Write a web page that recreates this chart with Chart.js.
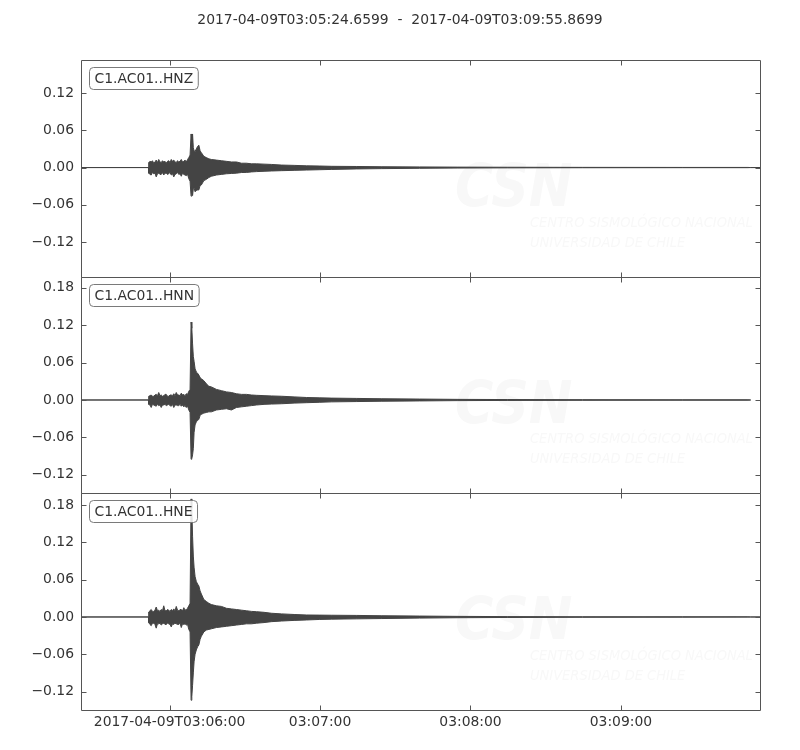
<!DOCTYPE html>
<html>
<head>
<meta charset="utf-8">
<script src="https://cdn.jsdelivr.net/npm/chart.js@4.4.1/dist/chart.umd.min.js"></script>
<style>
  html, body { margin: 0; padding: 0; background: #fff; }
</style>
</head>
<body>
<canvas id="seismo" width="800" height="750"></canvas>
<script>
// trace data, seconds after 2017-04-09T03:05:24.6599, envelope
const traceNames = ["C1.AC01..HNZ", "C1.AC01..HNN", "C1.AC01..HNE"];
const duration = 271.21;

const times = [
  0, 26.9,
  27, 27.5, 28, 28.5, 29, 29.5, 30, 30.5, 31, 31.5, 32, 32.5, 33, 33.5, 34, 34.5,
  35, 35.5, 36, 36.5, 37, 37.5, 38, 38.5, 39, 39.5, 40, 40.5, 41, 41.5, 42, 42.5, 43,
  43.5, 43.9, 44.2, 44.5, 44.8, 45.1, 45.5,
  46, 46.5, 47, 47.5, 48,
  49, 50, 51, 52,
  54, 56, 58, 60, 62, 64, 66, 68, 70,
  73, 76, 80, 85, 90, 95, 100,
  110, 120, 135, 150, 170, 200, 240, 266, 267.1, 271.21
];

const hnzHi = [
  0, 0,
  0.008, 0.010, 0.009, 0.011, 0.007, 0.009, 0.012, 0.008, 0.013, 0.009, 0.008, 0.011, 0.009, 0.010, 0.007, 0.010,
  0.011, 0.008, 0.013, 0.010, 0.012, 0.009, 0.008, 0.011, 0.009, 0.010, 0.013, 0.009, 0.010, 0.012, 0.009, 0.013, 0.016,
  0.020, 0.054, 0.042, 0.054, 0.032, 0.027, 0.026,
  0.030, 0.034, 0.036, 0.027, 0.024,
  0.018, 0.016, 0.014, 0.013,
  0.012, 0.011, 0.010, 0.009, 0.009, 0.007, 0.007, 0.006, 0.006,
  0.0055, 0.005, 0.004, 0.0035, 0.0028, 0.0025, 0.002,
  0.0017, 0.0013, 0.001, 0.0007, 0.0005, 0.0003, 0.0002, 0.0002, 0, 0
];
const hnzLo = [
  0, 0,
  -0.009, -0.011, -0.012, -0.008, -0.010, -0.009, -0.015, -0.010, -0.009, -0.011, -0.011, -0.008, -0.012, -0.009, -0.009, -0.011,
  -0.010, -0.008, -0.012, -0.010, -0.015, -0.011, -0.010, -0.008, -0.011, -0.010, -0.014, -0.009, -0.011, -0.012, -0.013, -0.011, -0.018,
  -0.022, -0.046, -0.040, -0.045, -0.034, -0.033, -0.039,
  -0.037, -0.036, -0.036, -0.029, -0.028,
  -0.021, -0.019, -0.016, -0.014,
  -0.012, -0.011, -0.010, -0.0095, -0.009, -0.008, -0.0078, -0.007, -0.0065,
  -0.006, -0.0055, -0.005, -0.0045, -0.004, -0.0035, -0.003,
  -0.0022, -0.0017, -0.0012, -0.0008, -0.0005, -0.0003, -0.0002, -0.0002, 0, 0
];

const hnnHi = [
  0, 0,
  0.006, 0.007, 0.008, 0.006, 0.006, 0.008, 0.009, 0.007, 0.012, 0.007, 0.008, 0.006, 0.007, 0.009, 0.009, 0.006,
  0.006, 0.008, 0.008, 0.007, 0.010, 0.007, 0.012, 0.008, 0.008, 0.007, 0.011, 0.008, 0.009, 0.007, 0.010, 0.009, 0.014,
  0.017, 0.125, 0.115, 0.090, 0.070, 0.062, 0.050,
  0.045, 0.043, 0.040, 0.036, 0.034,
  0.031, 0.026, 0.022, 0.021,
  0.017, 0.015, 0.013, 0.012, 0.010, 0.009, 0.009, 0.008, 0.0075,
  0.007, 0.0065, 0.006, 0.005, 0.004, 0.0035, 0.003,
  0.0025, 0.002, 0.0015, 0.001, 0.0007, 0.0005, 0.0003, 0.0003, 0, null
];
const hnnLo = [
  0, 0,
  -0.007, -0.008, -0.012, -0.007, -0.008, -0.009, -0.010, -0.007, -0.009, -0.008, -0.012, -0.008, -0.008, -0.007, -0.009, -0.008,
  -0.007, -0.009, -0.010, -0.007, -0.012, -0.008, -0.008, -0.009, -0.009, -0.007, -0.010, -0.008, -0.011, -0.009, -0.012, -0.010, -0.016,
  -0.020, -0.095, -0.094, -0.088, -0.078, -0.052, -0.040,
  -0.035, -0.033, -0.031, -0.025, -0.023,
  -0.021, -0.020, -0.019, -0.019,
  -0.016, -0.015, -0.014, -0.016, -0.012, -0.011, -0.010, -0.009, -0.008,
  -0.007, -0.0065, -0.006, -0.005, -0.0043, -0.0037, -0.003,
  -0.0025, -0.002, -0.0015, -0.001, -0.0007, -0.0005, -0.0003, -0.0003, 0, null
];

const hneHi = [
  0, 0,
  0.008, 0.010, 0.012, 0.009, 0.009, 0.011, 0.016, 0.010, 0.011, 0.009, 0.012, 0.010, 0.018, 0.010, 0.010, 0.012,
  0.011, 0.009, 0.012, 0.010, 0.013, 0.010, 0.017, 0.011, 0.010, 0.012, 0.012, 0.010, 0.015, 0.011, 0.012, 0.014, 0.018,
  0.022, 0.190, 0.175, 0.130, 0.098, 0.080, 0.065,
  0.057, 0.053, 0.050, 0.042, 0.037,
  0.028, 0.025, 0.022, 0.020,
  0.018, 0.017, 0.014, 0.013, 0.012, 0.011, 0.010, 0.009, 0.0085,
  0.0075, 0.006, 0.005, 0.004, 0.0032, 0.003, 0.0028,
  0.0025, 0.002, 0.0015, 0.001, 0.0006, 0.0004, 0.0003, 0.0002, 0, 0
];
const hneLo = [
  0, 0,
  -0.009, -0.012, -0.014, -0.010, -0.010, -0.012, -0.018, -0.011, -0.011, -0.010, -0.013, -0.011, -0.010, -0.012, -0.012, -0.010,
  -0.011, -0.012, -0.016, -0.011, -0.012, -0.010, -0.011, -0.012, -0.012, -0.010, -0.017, -0.011, -0.012, -0.011, -0.013, -0.012, -0.020,
  -0.024, -0.134, -0.128, -0.110, -0.090, -0.072, -0.060,
  -0.053, -0.048, -0.045, -0.036, -0.031,
  -0.024, -0.021, -0.020, -0.019,
  -0.017, -0.016, -0.015, -0.014, -0.013, -0.012, -0.011, -0.011, -0.010,
  -0.009, -0.0075, -0.0065, -0.0055, -0.0048, -0.004, -0.0035,
  -0.003, -0.0025, -0.0018, -0.0012, -0.0008, -0.0005, -0.0003, -0.0002, 0, 0
];

// axes
const yMins = [-0.1755, -0.1497, -0.1497];
const yMaxs = [0.1730, 0.1978, 0.1990];
const yTicksZ = [-0.12, -0.06, 0, 0.06, 0.12];
const yTicksNE = [-0.12, -0.06, 0, 0.06, 0.12, 0.18];
const xTickSecs = [35.3401, 95.3401, 155.3401, 215.3401];
const xTickLabels = ["2017-04-09T03:06:00", "03:07:00", "03:08:00", "03:09:00"];
const titleText = "2017-04-09T03:05:24.6599  -  2017-04-09T03:09:55.8699";

const FONT = "'DejaVu Sans', sans-serif";
const FSIZE = 13.9;
const TEXT = "#333333";
const FRAME = "#555555";
const TRACE = "#444444";

const hiSets = [hnzHi, hnnHi, hneHi];
const loSets = [hnzLo, hnnLo, hneLo];
const yTickSets = [yTicksZ, yTicksNE, yTicksNE];
const axisIds = ["y1", "y2", "y3"];

const toPoints = (vals) => times.map((t, k) => ({ x: t, y: vals[k] }));

const datasets = [];
traceNames.forEach((name, i) => {
  datasets.push({
    label: name,
    data: toPoints(hiSets[i]),
    yAxisID: axisIds[i],
    borderColor: TRACE,
    backgroundColor: TRACE,
    borderWidth: 1,
    pointRadius: 0,
    fill: "+1",
  });
  datasets.push({
    label: name + " low",
    data: toPoints(loSets[i]),
    yAxisID: axisIds[i],
    borderColor: TRACE,
    backgroundColor: TRACE,
    borderWidth: 1,
    pointRadius: 0,
    fill: false,
  });
});

const fmtY = (v) => (Math.abs(v) < 1e-9 ? "0.00" : v.toFixed(2).replace("-", "\u2212"));

const yAxis = (i) => ({
  type: "linear",
  position: "left",
  stack: "traces",
  stackWeight: 1,
  weight: 3 - i,
  min: yMins[i],
  max: yMaxs[i],
  grid: { display: false, drawTicks: false },
  border: { display: false },
  afterBuildTicks: (ax) => { ax.ticks = yTickSets[i].map((v) => ({ value: v })); },
  afterFit: (ax) => { ax.width = 81; },
  ticks: {
    autoSkip: false,
    padding: 7,
    color: TEXT,
    font: { family: FONT, size: FSIZE },
    callback: (v) => fmtY(v),
  },
});

// title, faint watermark, frames with inward ticks, station labels
const decorPlugin = {
  id: "decor",
  beforeDatasetsDraw(chart) {
    const c = chart.ctx;
    const a = chart.chartArea;
    c.save();
    c.beginPath();
    c.rect(a.left, a.top, a.right - a.left, a.bottom - a.top);
    c.clip();
    c.fillStyle = "#f8f8f8";
    axisIds.forEach((id) => {
      const top = chart.scales[id].top;
      c.font = "italic bold 58px 'Liberation Sans Narrow', 'DejaVu Sans Condensed', sans-serif";
      c.textBaseline = "alphabetic";
      c.fillText("CSN", 455, top + 146);
      c.font = "italic 14.5px 'Liberation Sans Narrow', 'DejaVu Sans Condensed', sans-serif";
      c.textBaseline = "middle";
      c.fillText("CENTRO SISMOLÓGICO NACIONAL", 530, top + 163);
      c.fillText("UNIVERSIDAD DE CHILE", 530, top + 183);
    });
    c.restore();
  },
  afterDatasetsDraw(chart) {
    const c = chart.ctx;
    const xs = chart.scales.x;
    const l = Math.round(xs.left) + 0.5;
    const r = Math.round(xs.right) - 0.5;
    c.save();
    c.strokeStyle = FRAME;
    c.lineWidth = 1;
    axisIds.forEach((id, i) => {
      const ys = chart.scales[id];
      const top = Math.round(ys.top) + 0.5;
      const bot = Math.round(ys.bottom) + 0.5;
      c.beginPath();
      c.rect(l, top, r - l, bot - top);
      yTickSets[i].forEach((v) => {
        const py = Math.round(ys.getPixelForValue(v)) + 0.5;
        c.moveTo(l, py); c.lineTo(l + 5, py);
        c.moveTo(r, py); c.lineTo(r - 5, py);
      });
      xTickSecs.forEach((t) => {
        const px = Math.round(xs.getPixelForValue(t)) + 0.5;
        c.moveTo(px, top); c.lineTo(px, top + 5);
        c.moveTo(px, bot); c.lineTo(px, bot - 5);
      });
      c.stroke();
    });

    c.font = FSIZE + "px " + FONT;
    c.textBaseline = "middle";
    axisIds.forEach((id, i) => {
      const top = chart.scales[id].top;
      const w = c.measureText(traceNames[i]).width + 10;
      const bx = 89.5, by = Math.round(top + 7) + 0.5, bh = 22, rad = 4;
      c.beginPath();
      c.moveTo(bx + rad, by);
      c.arcTo(bx + w, by, bx + w, by + bh, rad);
      c.arcTo(bx + w, by + bh, bx, by + bh, rad);
      c.arcTo(bx, by + bh, bx, by, rad);
      c.arcTo(bx, by, bx + w, by, rad);
      c.closePath();
      c.fillStyle = "rgba(255,255,255,0.85)";
      c.fill();
      c.strokeStyle = "#7a7a7a";
      c.stroke();
      c.fillStyle = TEXT;
      c.fillText(traceNames[i], bx + 5, by + bh / 2 + 0.5);
    });

    c.textAlign = "center";
    c.fillText(titleText, 400, 20);
    c.restore();
  },
};

new Chart(document.getElementById("seismo").getContext("2d"), {
  type: "line",
  data: { datasets: datasets },
  options: {
    responsive: false,
    animation: false,
    events: [],
    layout: { padding: { top: 60, right: 39, left: 0, bottom: 0 } },
    elements: { line: { tension: 0 } },
    plugins: {
      legend: { display: false },
      tooltip: { enabled: false },
      filler: { propagate: false },
    },
    scales: {
      x: {
        type: "linear",
        min: 0,
        max: duration,
        grid: { display: false, drawTicks: false },
        border: { display: false },
        afterBuildTicks: (ax) => { ax.ticks = xTickSecs.map((v) => ({ value: v })); },
        afterFit: (ax) => { ax.height = 40; },
        ticks: {
          autoSkip: false,
          maxRotation: 0,
          padding: 4,
          color: TEXT,
          font: { family: FONT, size: FSIZE },
          callback: (v, i) => xTickLabels[i],
        },
      },
      y1: yAxis(0),
      y2: yAxis(1),
      y3: yAxis(2),
    },
  },
  plugins: [decorPlugin],
});
</script>
</body>
</html>
